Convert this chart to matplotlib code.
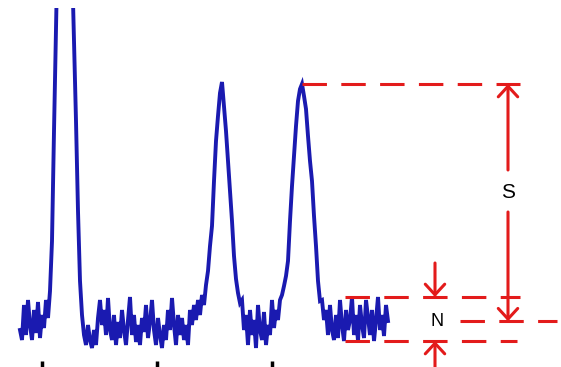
import numpy as np
import matplotlib.pyplot as plt

# chromatogram trace, one sample every 2 time units starting at t = 20
t_start = 20
t_step = 2

baseline_start = [-9, -19, 16, -14, 21, -4, -19, 11, -12, 19, -17, 6, -7, 21, 3]
peak_1 = [30, 80, 190, 290, 400, 520, 610, 650, 640, 590, 480, 360, 280, 200, 110, 40]
baseline_mid = [6, -14, -24, -4, -19, -27, -9, -24, 3, 21,
                -4, 11, -14, 23, -9, -19, 6, -24, -1, -17,
                11, -9, -24, 1, 24, -14, 6, -21, -4, -24,
                3, -11, 16, -17, -1, 21, -9, -24, 3, -14,
                -27, -4, -19, 11, -9, 23, -4, -24, 6, -14,
                3, -19, -4, -24, 11, -4, 16, 1, 21, 6,
                26, 16, 36]
peak_2 = [50, 75, 95, 140, 180, 205, 228, 239, 215, 190, 160, 130, 100, 65, 42, 28, 18]
baseline_between = [21, -9, 6, -24, 11, -14, 1, -27, 16, -9,
                    -19, 9, -24, -4, -14, 21, -7, 11, 1, 21, 26]
peak_3 = [35, 45, 60, 100, 135, 165, 195, 220, 232, 237,
          225, 212, 185, 160, 140, 105, 75, 40, 20]
baseline_end = [21, 1, 11, -14, 16, -9, -19, 6, -17, 21,
                -4, -20, 11, -9, 1, 24, -14, 6, -20, 16,
                -4, -17, 21, 3, -14, 11, -20, 1, 24, -9,
                6, -15, 16, 0]

tick_positions = [42, 157, 272]

signal = np.concatenate([baseline_start, peak_1, baseline_mid, peak_2,
                         baseline_between, peak_3, baseline_end])
time = t_start + t_step * np.arange(len(signal))

# signal = height of the last peak, noise = spread of the trailing baseline
i_peak = len(signal) - len(baseline_end) - len(peak_3) + int(np.argmax(peak_3))
t_peak = time[i_peak]
s_level = signal[i_peak]
noise = np.array(baseline_end[10:])
n_top, n_bottom, n_mid = noise.max(), noise.min(), noise.mean()

blue = "#1a1ab0"
red = "#e31b1b"
dash = (0, (8, 4.7))

fig = plt.figure(figsize=(5.61, 3.67), dpi=100)
ax = fig.add_axes([0, 0, 1, 359 / 367])
ax.set_xlim(0, 561)
ax.set_ylim(-46, 313)

ax.plot(time, signal, color=blue, linewidth=2.8, solid_joinstyle="miter")

# dashed guide lines
ax.plot([t_peak, 520], [s_level, s_level], color=red, lw=2.2, ls=dash)
ax.plot([345, 520], [n_top, n_top], color=red, lw=2.2, ls=dash)
ax.plot([345, 517], [n_bottom, n_bottom], color=red, lw=2.2, ls=dash)
ax.plot([460, 557], [n_mid, n_mid], color=red, lw=2.2, ls=dash)

head = "->,head_length=0.38,head_width=0.35"
arrow_kw = dict(arrowstyle=head, color=red, lw=2.2, mutation_scale=20,
                shrinkA=0, shrinkB=0)

# S arrows
ax.annotate("", xy=(508, s_level), xytext=(508, 151), arrowprops=arrow_kw)
ax.annotate("", xy=(508, n_mid), xytext=(508, 109), arrowprops=arrow_kw)
ax.text(508, 128, "S", ha="center", va="center", fontsize=15,
        family="Liberation Sans")

# N arrows
ax.annotate("", xy=(435, n_top), xytext=(435, 58), arrowprops=arrow_kw)
ax.annotate("", xy=(435, n_bottom), xytext=(435, -60), arrowprops=arrow_kw,
            annotation_clip=False)
ax.text(437, n_mid, "N", ha="center", va="center", fontsize=13,
        family="Liberation Sans")

ax.set_xticks(tick_positions)
ax.set_yticks([])
ax.tick_params(axis="x", direction="in", length=4, width=2.5, color="black",
               labelbottom=False)
for spine in ax.spines.values():
    spine.set_visible(False)

fig.savefig("out.png", dpi=100)
